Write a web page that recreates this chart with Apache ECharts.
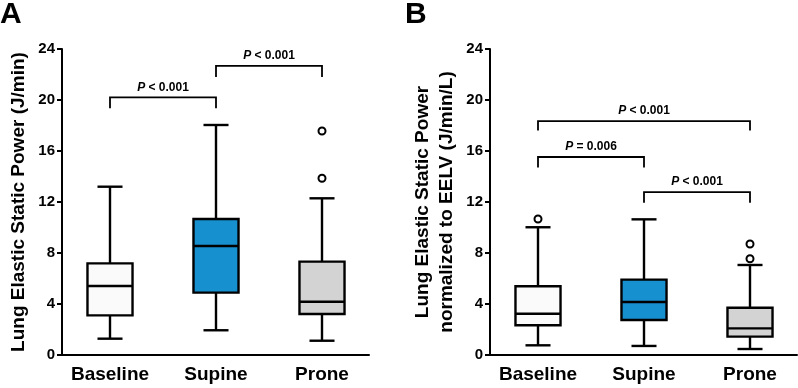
<!DOCTYPE html>
<html><head><meta charset="utf-8">
<script src="https://cdn.jsdelivr.net/npm/echarts@6/dist/echarts.min.js"></script>
<style>html,body{margin:0;padding:0;background:#fff}#c{width:798px;height:388px}</style>
</head><body><div id="c"></div>
<script>
// ---------- data ----------
const categories = ['Baseline', 'Supine', 'Prone'];
const yMin = 0, yMax = 24, yInterval = 4;

// [lower whisker, Q1, median, Q3, upper whisker]
const boxesA = [
  [1.28, 3.11, 5.41, 7.19, 13.2],
  [1.94, 4.89, 8.55, 10.67, 18.04],
  [1.12, 3.22, 4.18, 7.32, 12.29]
];
// [category index, value]
const outliersA = [[2, 17.57], [2, 13.86]];
// [from index, to index, bar level, end level]
const bracketsA = [[0, 1, 20.2, 19.35], [1, 2, 22.67, 21.8]];
const bracketLabelsA = ['P < 0.001', 'P < 0.001'];

const boxesB = [
  [0.76, 2.33, 3.24, 5.39, 10.02],
  [0.71, 2.75, 4.16, 5.91, 10.64],
  [0.47, 1.44, 2.09, 3.71, 7.06]
];
const outliersB = [[0, 10.67], [2, 8.71], [2, 7.55]];
const bracketsB = [[0, 2, 18.35, 17.6], [0, 1, 15.53, 14.7], [1, 2, 12.78, 11.95]];
const bracketLabelsB = ['P < 0.001', 'P = 0.006', 'P < 0.001'];

const yNameA = 'Lung Elastic Static Power (J/min)';
const yNameB = 'Lung Elastic Static Power\nnormalized to EELV (J/min/L)';

// ---------- styles ----------
const FONT = '"Liberation Sans", Arial, Helvetica, sans-serif';
const fills = ['#fafafa', '#1790d0', '#d3d3d3'];
const xMin = 1 - 48 / 106, xMax = xMin + 307 / 106;

const chart = echarts.init(document.getElementById('c'), null, {renderer: 'canvas'});

function boxRender(params, api) {
  const x = api.value(0);
  const lo = api.value(1), q1 = api.value(2), med = api.value(3), q3 = api.value(4), hi = api.value(5);
  const boxW = api.size([0.425, 0])[0];
  const capW = api.size([0.236, 0])[0];
  const pLo = api.coord([x, lo]), pQ1 = api.coord([x, q1]), pMed = api.coord([x, med]);
  const pQ3 = api.coord([x, q3]), pHi = api.coord([x, hi]);
  const cx = pLo[0];
  const ls = {stroke: '#000', lineWidth: 2.4};
  return {
    type: 'group',
    children: [
      {type: 'line', shape: {x1: cx, y1: pLo[1], x2: cx, y2: pQ1[1]}, style: ls},
      {type: 'line', shape: {x1: cx, y1: pQ3[1], x2: cx, y2: pHi[1]}, style: ls},
      {type: 'line', shape: {x1: cx - capW / 2, y1: pLo[1], x2: cx + capW / 2, y2: pLo[1]}, style: ls},
      {type: 'line', shape: {x1: cx - capW / 2, y1: pHi[1], x2: cx + capW / 2, y2: pHi[1]}, style: ls},
      {type: 'rect', shape: {x: cx - boxW / 2, y: pQ3[1], width: boxW, height: pQ1[1] - pQ3[1]},
        style: {fill: fills[params.dataIndex], stroke: '#000', lineWidth: 2.4}},
      {type: 'line', shape: {x1: cx - boxW / 2, y1: pMed[1], x2: cx + boxW / 2, y2: pMed[1]}, style: ls}
    ]
  };
}

function bracketRender(labels) {
  return function (params, api) {
    const x1 = api.value(0) + 1, x2 = api.value(1) + 1, yb = api.value(2), ye = api.value(3);
    const a = api.coord([x1, yb]), b = api.coord([x2, yb]);
    const a2 = api.coord([x1, ye]), b2 = api.coord([x2, ye]);
    const txt = labels[params.dataIndex];
    return {
      type: 'group',
      children: [
        {type: 'polyline', shape: {points: [a2, a, b, b2]}, style: {stroke: '#000', lineWidth: 1.8, fill: null}},
        {type: 'text', style: {
          text: '{i|P}' + txt.slice(1), x: (a[0] + b[0]) / 2, y: a[1] - 4,
          align: 'center', verticalAlign: 'bottom',
          fontSize: 12, fontWeight: 'bold', fontFamily: FONT, fill: '#000',
          rich: {i: {fontStyle: 'italic', fontWeight: 'bold', fontSize: 12, fontFamily: FONT, fill: '#000'}}
        }}
      ]
    };
  };
}

function xAxisDef(gi) {
  return {
    type: 'value', gridIndex: gi, min: xMin, max: xMax,
    axisLine: {show: true, onZero: false, lineStyle: {color: '#000', width: 2}},
    axisTick: {show: false}, splitLine: {show: false},
    axisLabel: {
      customValues: [1, 2, 3], margin: 10,
      formatter: v => categories[Math.round(v) - 1] || '',
      fontSize: 19, fontWeight: 'bold', color: '#000', fontFamily: FONT
    }
  };
}
function yAxisDef(gi, name) {
  return {
    type: 'value', gridIndex: gi, min: yMin, max: yMax, interval: yInterval,
    name: name, nameLocation: 'middle', nameRotate: 90, nameGap: 31,
    nameTextStyle: {fontSize: 19, fontWeight: 'bold', color: '#000', fontFamily: FONT, lineHeight: 24},
    axisLine: {show: true, onZero: false, lineStyle: {color: '#000', width: 2}},
    axisTick: {show: true, length: 5, lineStyle: {color: '#000', width: 2}},
    splitLine: {show: false},
    axisLabel: {fontSize: 15, fontWeight: 'bold', color: '#000', fontFamily: FONT, margin: 7}
  };
}

function outlierSeries(gi, list) {
  return {
    type: 'scatter', xAxisIndex: gi, yAxisIndex: gi,
    data: list.map(o => [o[0] + 1, o[1]]),
    symbol: 'circle', symbolSize: 7,
    itemStyle: {color: '#fff', borderColor: '#000', borderWidth: 2, opacity: 1},
    z: 5, silent: true
  };
}

const option = {
  animation: false,
  backgroundColor: '#fff',
  title: [
    {text: 'A', left: 0, top: 0, padding: 0, textStyle: {fontSize: 30, fontWeight: 'bold', color: '#000', fontFamily: FONT}},
    {text: 'B', left: 405, top: 0, padding: 0, textStyle: {fontSize: 30, fontWeight: 'bold', color: '#000', fontFamily: FONT}}
  ],
  grid: [
    {left: 62, top: 49, width: 307, height: 306, outerBoundsMode: 'none', containLabel: false},
    {left: 490, top: 49, width: 307, height: 306, outerBoundsMode: 'none', containLabel: false}
  ],
  xAxis: [xAxisDef(0), xAxisDef(1)],
  yAxis: [yAxisDef(0, yNameA), yAxisDef(1, yNameB)],
  series: [
    {type: 'custom', xAxisIndex: 0, yAxisIndex: 0, renderItem: boxRender, clip: false,
      encode: {x: 0, y: [1, 2, 3, 4, 5]}, data: boxesA.map((b, i) => [i + 1].concat(b)), silent: true},
    {type: 'custom', xAxisIndex: 1, yAxisIndex: 1, renderItem: boxRender, clip: false,
      encode: {x: 0, y: [1, 2, 3, 4, 5]}, data: boxesB.map((b, i) => [i + 1].concat(b)), silent: true},
    outlierSeries(0, outliersA),
    outlierSeries(1, outliersB),
    {type: 'custom', xAxisIndex: 0, yAxisIndex: 0, renderItem: bracketRender(bracketLabelsA), clip: false,
      encode: {x: [0, 1], y: [2, 3]}, data: bracketsA, silent: true},
    {type: 'custom', xAxisIndex: 1, yAxisIndex: 1, renderItem: bracketRender(bracketLabelsB), clip: false,
      encode: {x: [0, 1], y: [2, 3]}, data: bracketsB, silent: true}
  ]
};
chart.setOption(option);
</script>
</body></html>
